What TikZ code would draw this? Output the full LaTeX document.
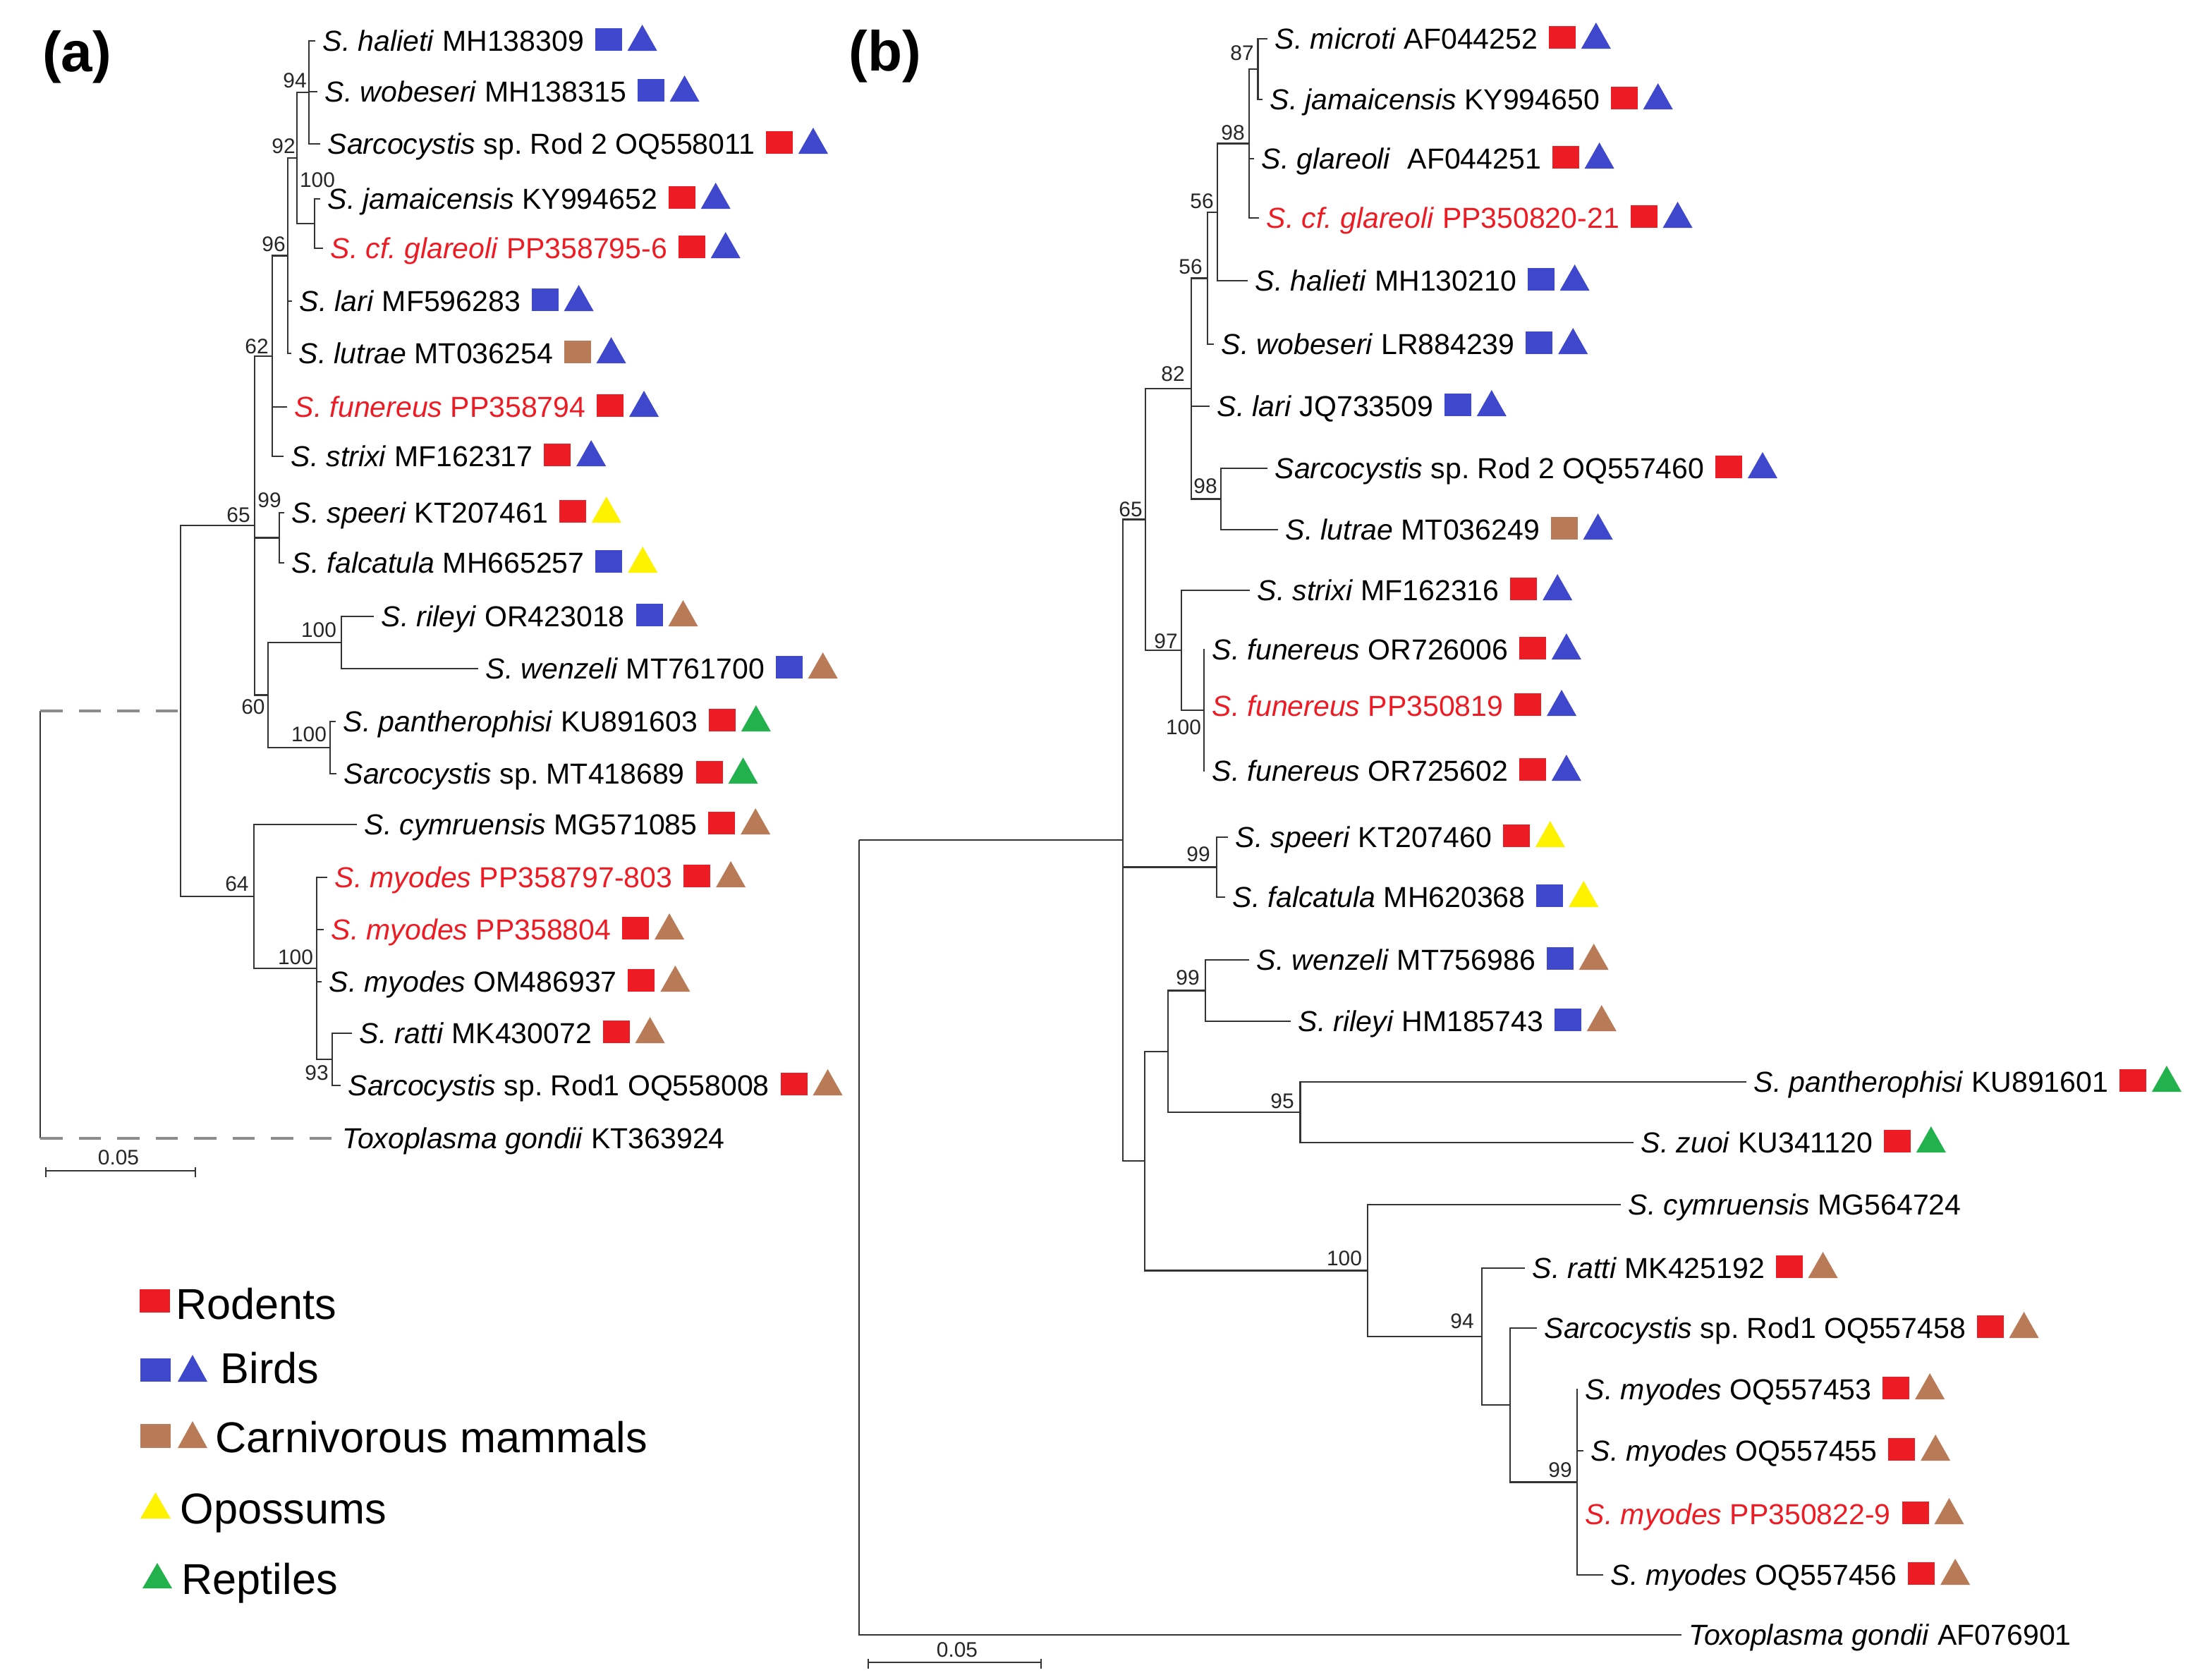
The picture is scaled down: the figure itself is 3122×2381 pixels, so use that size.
\documentclass[tikz,border=0pt]{standalone}
\usepackage{fontspec}
\setmainfont{Liberation Sans}
\usetikzlibrary{calc}
\definecolor{cred}{HTML}{ED1C24}
\definecolor{cblue}{HTML}{3F48CC}
\definecolor{cbrown}{HTML}{B97A57}
\definecolor{cyellow}{HTML}{FFF200}
\definecolor{cgreen}{HTML}{22B14C}
\newcommand\leafnode[5][]{\node[lab,#1] (#2) at (#3-10,#4) {#5};}
\newcommand\hostmk[3]{%
  \fill[#2] ($(#1.east)+(5,14)$) rectangle ++(38,-32);
  \fill[#3] ($(#1.east)+(51,14)$) -- ++(42,0) -- ++(-21,-37) -- cycle;}
\begin{document}
\frenchspacing
\begin{tikzpicture}[x=0.01cm,y=-0.01cm,
  brl/.style={draw=black!80, line width=0.7pt},
  dbr/.style={draw=black!45, line width=1.4pt, dash pattern=on 9pt off 6.5pt},
  lab/.style={font=\fontsize{11.66pt}{14pt}\selectfont, inner xsep=0.1cm, inner ysep=0pt, text height=0.29cm, text depth=0pt, anchor=west},
  boot/.style={font=\fontsize{8.5pt}{10pt}\selectfont, inner sep=0pt, text=black!85},
  leg/.style={font=\fontsize{17.4pt}{20pt}\selectfont, inner sep=0pt, anchor=base west},
  panel/.style={font=\fontsize{22.8pt}{26pt}\selectfont\bfseries, inner sep=0pt}]
\useasboundingbox (0,0) rectangle (3122,2381);

% ---------------- panel labels ----------------
\node[panel] (pa) at (109,81) {(a)};
\node[panel] (pb) at (1255,80) {(b)};

% ---------------- tree (a): leaves ----------------
\leafnode{ahal}{457}{58}{\textit{S. halieti} MH138309}
\leafnode{awob}{460}{130}{\textit{S. wobeseri} MH138315}
\leafnode{arod2}{464}{204}{\textit{Sarcocystis} sp. Rod 2 OQ558011}
\leafnode{ajam}{464}{282}{\textit{S. jamaicensis} KY994652}
\leafnode[text=cred]{agla}{468}{352}{\textit{S. cf. glareoli} PP358795-6}
\leafnode{alari}{424}{427}{\textit{S. lari} MF596283}
\leafnode{alut}{423}{501}{\textit{S. lutrae} MT036254}
\leafnode[text=cred]{afun}{417}{577}{\textit{S. funereus} PP358794}
\leafnode{astr}{412}{647}{\textit{S. strixi} MF162317}
\leafnode{aspe}{413}{727}{\textit{S. speeri} KT207461}
\leafnode{afal}{413}{798}{\textit{S. falcatula} MH665257}
\leafnode{aril}{540}{874}{\textit{S. rileyi} OR423018}
\leafnode{awen}{688}{948}{\textit{S. wenzeli} MT761700}
\leafnode{apan}{486}{1023}{\textit{S. pantherophisi} KU891603}
\leafnode{amt}{487}{1097}{\textit{Sarcocystis} sp. MT418689}
\leafnode{acym}{516}{1169}{\textit{S. cymruensis} MG571085}
\leafnode[text=cred]{amyA}{474}{1244}{\textit{S. myodes} PP358797-803}
\leafnode[text=cred]{amyB}{469}{1318}{\textit{S. myodes} PP358804}
\leafnode{amyC}{466}{1392}{\textit{S. myodes} OM486937}
\leafnode{arat}{509}{1465}{\textit{S. ratti} MK430072}
\leafnode{arod1}{493}{1539}{\textit{Sarcocystis} sp. Rod1 OQ558008}
\leafnode{atox}{485}{1614}{\textit{Toxoplasma gondii} KT363924}

% internal nodes (a)
\coordinate (a94) at (438,131);
\coordinate (a100j) at (446,317);
\coordinate (a92) at (421,224);
\coordinate (a96) at (408,362.5);
\coordinate (a62) at (386,505);
\coordinate (a99) at (396,762.5);
\coordinate (a100r) at (484,911);
\coordinate (a100p) at (468,1060);
\coordinate (a60) at (380,985.5);
\coordinate (a65) at (361,745);
\coordinate (a93) at (471,1502);
\coordinate (a100m) at (449,1373);
\coordinate (a64) at (360,1271);
\coordinate (aR) at (256,1008);
\coordinate (aroot) at (57,1008);

\foreach \p/\c in {a94/ahal,a94/awob,a94/arod2,a100j/ajam,a100j/agla,a92/a94,a92/a100j,
  a96/a92,a96/alari,a96/alut,a62/a96,a62/afun,a62/astr,a99/aspe,a99/afal,
  a100r/aril,a100r/awen,a100p/apan,a100p/amt,a60/a100r,a60/a100p,
  a65/a62,a65/a99,a65/a60,a93/arat,a93/arod1,a100m/amyA,a100m/amyB,a100m/amyC,a100m/a93,
  a64/acym,a64/a100m,aR/a65,aR/a64}
  \draw[brl] (\p) |- (\c);
\draw[brl] (aroot) -- (aroot |- atox.west);
\draw[dbr] (aroot) -- (aR);
\draw[dbr] (aroot |- atox.west) -- (atox.west);

% markers (a)
\foreach \n/\s/\t in {ahal/cblue/cblue,awob/cblue/cblue,arod2/cred/cblue,ajam/cred/cblue,
  agla/cred/cblue,alari/cblue/cblue,alut/cbrown/cblue,afun/cred/cblue,astr/cred/cblue,
  aspe/cred/cyellow,afal/cblue/cyellow,aril/cblue/cbrown,awen/cblue/cbrown,
  apan/cred/cgreen,amt/cred/cgreen,acym/cred/cbrown,amyA/cred/cbrown,amyB/cred/cbrown,
  amyC/cred/cbrown,arat/cred/cbrown,arod1/cred/cbrown}
  {\hostmk{\n}{\s}{\t}}

% bootstrap (a)
\foreach \nm/\x/\y/\t in {ba94/418/114/94,ba92/402/207/92,ba100j/450/255/100,ba96/388/346/96,
  ba62/364/491/62,ba99/382/709/99,ba65/338/730/65,ba100r/452/893/100,ba60/359/1002/60,
  ba100p/438/1041/100,ba64/336/1253/64,ba100m/419/1357/100,ba93/449/1521/93}
  \node[boot] (\nm) at (\x,\y) {\t};

% scale bar (a)
\coordinate (sa1) at (65,1660);
\coordinate (sa2) at (277,1660);
\draw[brl] (sa1) -- (sa2);
\draw[brl] ($(sa1)+(0,-5)$) -- ($(sa1)+(0,9)$);
\draw[brl] ($(sa2)+(0,-5)$) -- ($(sa2)+(0,9)$);
\node[boot] (sta) at (168,1641) {0.05};

% ---------------- legend ----------------
\fill[cred] (198,1861) rectangle (241,1828);
\node[leg] (lgR) at (249,1870) {Rodents};
\fill[cblue] (199,1959) rectangle (242,1926);
\fill[cblue] (252,1959) -- (294,1959) -- (273,1921) -- cycle;
\node[leg] (lgB) at (312,1961) {Birds};
\fill[cbrown] (199,2053) rectangle (242,2019);
\fill[cbrown] (252,2053) -- (294,2053) -- (273,2015) -- cycle;
\node[leg] (lgC) at (305,2059) {Carnivorous mammals};
\fill[cyellow] (199,2153) -- (242,2153) -- (220.5,2116) -- cycle;
\node[leg] (lgO) at (255,2160) {Opossums};
\fill[cgreen] (202,2252) -- (244,2252) -- (223,2216) -- cycle;
\node[leg] (lgP) at (257,2260) {Reptiles};

% ---------------- tree (b): leaves ----------------
\leafnode{bmic}{1807}{55}{\textit{S. microti} AF044252}
\leafnode{bjam}{1800}{141}{\textit{S. jamaicensis} KY994650}
\leafnode{bgla}{1788}{225}{\textit{S. glareoli}\hspace{0.3em} AF044251}
\leafnode[text=cred]{bcfg}{1795}{309}{\textit{S. cf. glareoli} PP350820-21}
\leafnode{bhal}{1779}{398}{\textit{S. halieti} MH130210}
\leafnode{bwob}{1731}{488}{\textit{S. wobeseri} LR884239}
\leafnode{blar}{1725}{576}{\textit{S. lari} JQ733509}
\leafnode{brod2}{1807}{664}{\textit{Sarcocystis} sp. Rod 2 OQ557460}
\leafnode{blut}{1822}{751}{\textit{S. lutrae} MT036249}
\leafnode{bstr}{1782}{837}{\textit{S. strixi} MF162316}
\leafnode{bfunA}{1718}{921}{\textit{S. funereus} OR726006}
\leafnode[text=cred]{bfunB}{1718}{1001}{\textit{S. funereus} PP350819}
\leafnode{bfunC}{1718}{1093}{\textit{S. funereus} OR725602}
\leafnode{bspe}{1751}{1187}{\textit{S. speeri} KT207460}
\leafnode{bfal}{1747}{1272}{\textit{S. falcatula} MH620368}
\leafnode{bwen}{1781}{1361}{\textit{S. wenzeli} MT756986}
\leafnode{bril}{1840}{1448}{\textit{S. rileyi} HM185743}
\leafnode{bpan}{2486}{1534}{\textit{S. pantherophisi} KU891601}
\leafnode{bzuo}{2326}{1620}{\textit{S. zuoi} KU341120}
\leafnode{bcym}{2308}{1708}{\textit{S. cymruensis} MG564724}
\leafnode{brat}{2172}{1798}{\textit{S. ratti} MK425192}
\leafnode{brod1}{2189}{1883}{\textit{Sarcocystis} sp. Rod1 OQ557458}
\leafnode{bmyA}{2247}{1970}{\textit{S. myodes} OQ557453}
\leafnode{bmyB}{2255}{2057}{\textit{S. myodes} OQ557455}
\leafnode[text=cred]{bmyC}{2247}{2147}{\textit{S. myodes} PP350822-9}
\leafnode{bmyD}{2283}{2233}{\textit{S. myodes} OQ557456}
\leafnode{btox}{2394}{2318}{\textit{Toxoplasma gondii} AF076901}

% internal nodes (b)
\coordinate (b87) at (1783.5,98);
\coordinate (b98) at (1771,203.5);
\coordinate (b56u) at (1726,301);
\coordinate (b56l) at (1712,394.5);
\coordinate (b98r) at (1731,707.5);
\coordinate (b82) at (1689,551);
\coordinate (b100f) at (1707,1007);
\coordinate (b97) at (1675,922);
\coordinate (b65) at (1624,736.5);
\coordinate (b99s) at (1725,1229.5);
\coordinate (b99w) at (1709,1404.5);
\coordinate (b95) at (1843.5,1577);
\coordinate (bWP) at (1656,1491);
\coordinate (b99m) at (2236,2101.5);
\coordinate (bRM) at (2141,1992);
\coordinate (b94) at (2101,1895);
\coordinate (b100c) at (1939,1801.5);
\coordinate (bL) at (1623,1646);
\coordinate (b1) at (1592,1191);
\coordinate (broot) at (1218,1191);

\foreach \p/\c in {b87/bmic,b87/bjam,b98/b87,b98/bgla,b98/bcfg,b56u/b98,b56u/bhal,
  b56l/b56u,b56l/bwob,b98r/brod2,b98r/blut,b82/b56l,b82/blar,b82/b98r,
  b100f/bfunA,b100f/bfunB,b100f/bfunC,b97/bstr,b97/b100f,b65/b82,b65/b97,
  b99s/bspe,b99s/bfal,b99w/bwen,b99w/bril,b95/bpan,b95/bzuo,bWP/b99w,bWP/b95,
  b99m/bmyA,b99m/bmyB,b99m/bmyC,b99m/bmyD,bRM/brod1,bRM/b99m,b94/brat,b94/bRM,
  b100c/bcym,b100c/b94,bL/bWP,bL/b100c,b1/b65,b1/b99s,b1/bL,broot/b1,broot/btox}
  \draw[brl] (\p) |- (\c);

% markers (b)
\foreach \n/\s/\t in {bmic/cred/cblue,bjam/cred/cblue,bgla/cred/cblue,bcfg/cred/cblue,
  bhal/cblue/cblue,bwob/cblue/cblue,blar/cblue/cblue,brod2/cred/cblue,blut/cbrown/cblue,
  bstr/cred/cblue,bfunA/cred/cblue,bfunB/cred/cblue,bfunC/cred/cblue,
  bspe/cred/cyellow,bfal/cblue/cyellow,bwen/cblue/cbrown,bril/cblue/cbrown,
  bpan/cred/cgreen,bzuo/cred/cgreen,brat/cred/cbrown,brod1/cred/cbrown,
  bmyA/cred/cbrown,bmyB/cred/cbrown,bmyC/cred/cbrown,bmyD/cred/cbrown}
  {\hostmk{\n}{\s}{\t}}

% bootstrap (b)
\foreach \nm/\x/\y/\t in {bb87/1761/75/87,bb98/1748/188/98,bb56u/1704/285/56,bb56l/1688/378/56,
  bb82/1663/530/82,bb98r/1709/689/98,bb65/1603/722/65,bb97/1653/909/97,bb100f/1678/1031/100,
  bb99s/1699/1211/99,bb99w/1684/1386/99,bb95/1818/1561/95,bb100c/1906/1784/100,
  bb94/2073/1873/94,bb99m/2212/2084/99}
  \node[boot] (\nm) at (\x,\y) {\t};

% scale bar (b)
\coordinate (sb1) at (1231,2357);
\coordinate (sb2) at (1476,2357);
\draw[brl] (sb1) -- (sb2);
\draw[brl] ($(sb1)+(0,-5)$) -- ($(sb1)+(0,9)$);
\draw[brl] ($(sb2)+(0,-5)$) -- ($(sb2)+(0,9)$);
\node[boot] (stb) at (1357,2339) {0.05};
\end{tikzpicture}
\end{document}
